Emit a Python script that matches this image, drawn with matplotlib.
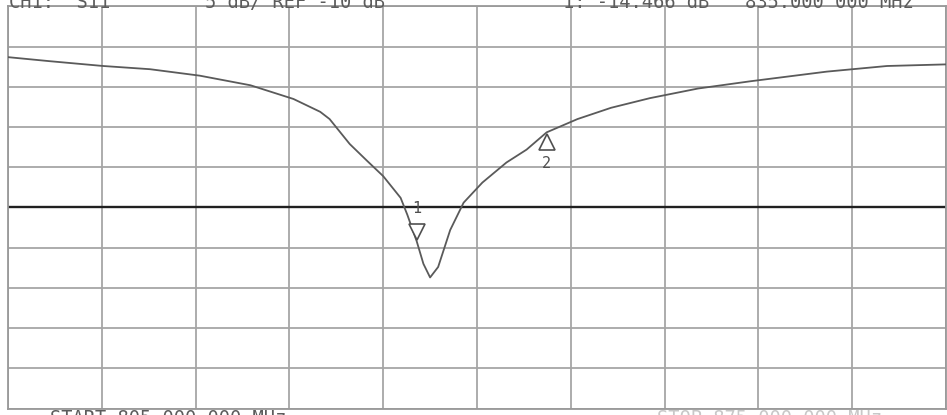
import matplotlib
matplotlib.use("Agg")
from matplotlib import pyplot as plt
from matplotlib import transforms
import numpy as np

# sweep settings
start_mhz = 805.0
stop_mhz = 875.0
ref_db = -10.0
db_per_div = 5.0

# trace (MHz, dB)
freq = [805.0, 808.1, 812.1, 815.6, 819.3, 823.1, 826.3, 828.3, 829.0, 830.5,
        831.8, 833.0, 834.3, 834.8, 835.5, 836.0, 836.5, 837.1, 838.0, 839.0,
        840.4, 842.2, 843.7, 845.2, 847.5, 850.0, 852.9, 856.5, 860.4, 866.1,
        870.6, 875.0]
s11 = [8.7, 8.2, 7.6, 7.2, 6.4, 5.2, 3.5, 1.9, 1.0, -2.1,
       -4.2, -6.1, -8.8, -10.9, -14.2, -17.0, -18.7, -17.4, -12.8, -9.4,
       -6.9, -4.4, -2.8, -0.65, 1.0, 2.4, 3.6, 4.8, 5.7, 6.9,
       7.6, 7.8]

# markers
mk_freq = [835.5, 845.2]
mk_db = [-14.2, -0.65]
mk_label = ["1", "2"]

top_left = "CH1:  S11"
top_scale = "5 dB/ REF -10 dB"
top_mk = "1: -14.466 dB"
top_freq = "835.000 000 MHz"
bot_start = "START 805.000 000 MHz"
bot_stop = "STOP 875.000 000 MHz"

W, H = 947, 415
fig = plt.figure(figsize=(W / 100, H / 100), dpi=100)
ax = fig.add_axes([8 / W, 6.5 / H, 938 / W, 402 / H])

ax.set_xlim(start_mhz, stop_mhz)
ax.set_ylim(ref_db - 5 * db_per_div, ref_db + 5 * db_per_div)
ax.set_xticks(np.linspace(start_mhz, stop_mhz, 11))
ax.set_yticks(np.arange(ref_db - 5 * db_per_div, ref_db + 5 * db_per_div + 1, db_per_div))
ax.tick_params(length=0, labelbottom=False, labelleft=False)
ax.grid(True, color="#a6a6a6", lw=1.3)
for s in ax.spines.values():
    s.set_color("#999999")
    s.set_linewidth(1.3)

ax.axhline(ref_db, color="#202020", lw=1.7, zorder=2)
ax.plot(freq, s11, color="#5a5a5a", lw=1.3, zorder=3)

# marker 1: down triangle sitting on the trace, marker 2: up triangle under it
t_down = transforms.offset_copy(ax.transData, fig=fig, x=0, y=7, units="points")
t_up = transforms.offset_copy(ax.transData, fig=fig, x=0, y=-7, units="points")
ax.plot(mk_freq[0], mk_db[0], marker="v", ms=12, mfc="white", mec="#505050",
        mew=1.2, transform=t_down, zorder=4)
ax.plot(mk_freq[1], mk_db[1], marker="^", ms=12, mfc="white", mec="#505050",
        mew=1.2, transform=t_up, zorder=4)
ax.annotate(mk_label[0], (mk_freq[0], mk_db[0]), xytext=(0, 18), textcoords="offset points",
            ha="center", va="bottom", fontsize=11, family="DejaVu Sans Mono", color="#505050")
ax.annotate(mk_label[1], (mk_freq[1], mk_db[1]), xytext=(0, -17), textcoords="offset points",
            ha="center", va="top", fontsize=11, family="DejaVu Sans Mono", color="#505050")

tk = dict(family="DejaVu Sans Mono", fontsize=13.5, color="#5c5c5c")
fig.text(9 / W, 1 - 8 / H, top_left, va="baseline", **tk)
fig.text(205 / W, 1 - 8 / H, top_scale, va="baseline", **tk)
fig.text(563 / W, 1 - 8 / H, top_mk, va="baseline", **tk)
fig.text(745 / W, 1 - 8 / H, top_freq, va="baseline", **tk)
fig.text(50 / W, 6 / H, bot_start, va="top", **tk)
fig.text(657 / W, 6 / H, bot_stop, va="top", family="DejaVu Sans Mono", fontsize=13.5,
         color="#c8c8c8")

fig.savefig("out.png", dpi=100)
